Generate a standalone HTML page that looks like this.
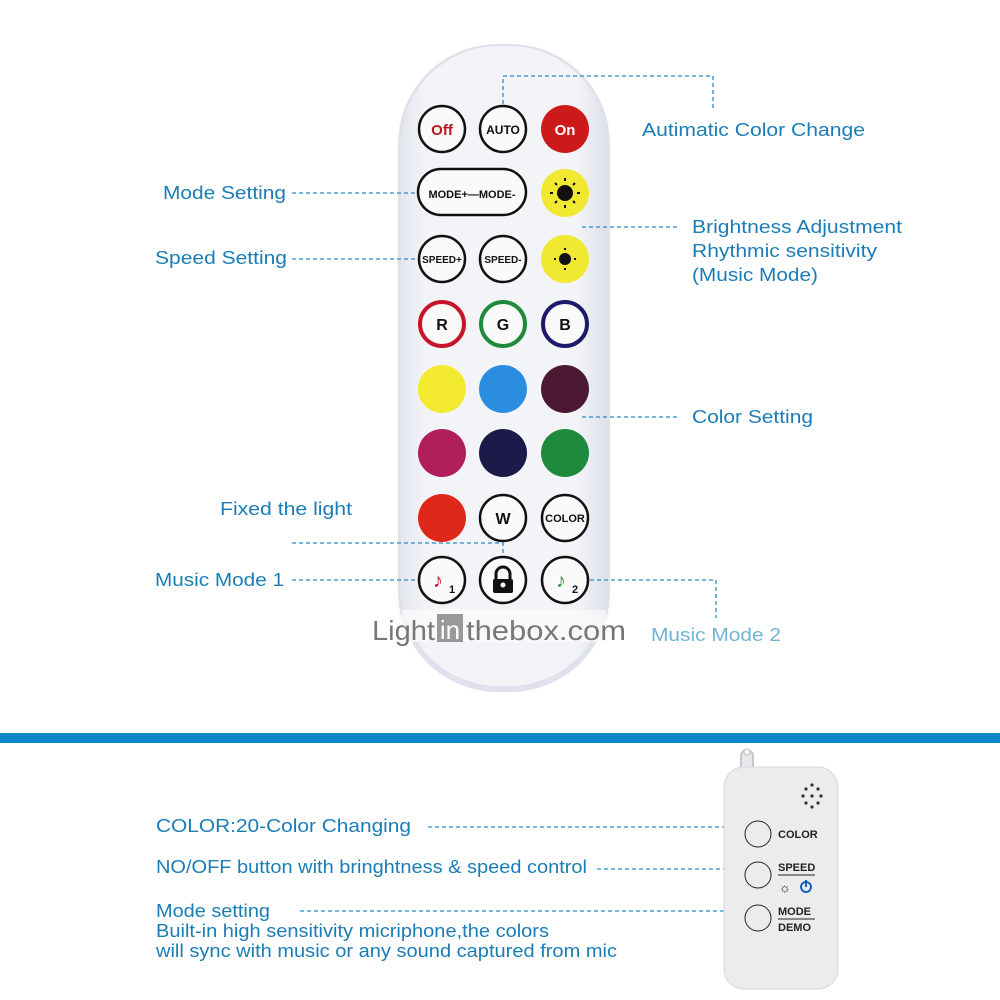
<!DOCTYPE html>
<html><head><meta charset="utf-8"><style>
html,body{margin:0;padding:0;background:#fff;}
svg{display:block;}
text{font-family:"Liberation Sans",sans-serif;}
</style></head><body>
<svg width="1000" height="1000" viewBox="0 0 1000 1000">
<defs>
<linearGradient id="rg" x1="0" x2="1" y1="0" y2="0">
<stop offset="0" stop-color="#e4e6ee"/><stop offset="0.12" stop-color="#f3f4f8"/><stop offset="0.85" stop-color="#f3f4f8"/><stop offset="1" stop-color="#dfe1ea"/>
</linearGradient>
</defs>
<rect x="398" y="44" width="212" height="648" rx="100" fill="#dfe2ec"/>
<rect x="401" y="46" width="206" height="640" rx="98" fill="url(#rg)"/>
<rect x="402" y="610" width="204" height="32" fill="#fafafa" opacity="0.8"/>

<g stroke="#111" stroke-width="2.5" fill="#fafafa">
<circle cx="442" cy="129" r="23"/>
<circle cx="503" cy="129" r="23"/>
<rect x="418" y="169" width="108" height="46" rx="23"/>
<circle cx="442" cy="259" r="23"/>
<circle cx="503" cy="259" r="23"/>
<circle cx="503" cy="518" r="23"/>
<circle cx="565" cy="518" r="23"/>
<circle cx="442" cy="580" r="23"/>
<circle cx="503" cy="580" r="23"/>
<circle cx="565" cy="580" r="23"/>
</g>
<circle cx="565" cy="129" r="24" fill="#cc1a1a"/>
<circle cx="565" cy="193" r="24" fill="#f1e832"/>
<circle cx="565" cy="259" r="24" fill="#f1e832"/>
<circle cx="565" cy="193" r="8" fill="#111"/>
<circle cx="565" cy="259" r="6" fill="#111"/>
<g stroke="#111" stroke-width="2">
<line x1="565" y1="178" x2="565" y2="181"/><line x1="565" y1="205" x2="565" y2="208"/>
<line x1="550" y1="193" x2="553" y2="193"/><line x1="577" y1="193" x2="580" y2="193"/>
<line x1="555" y1="183" x2="557" y2="185"/><line x1="573" y1="201" x2="575" y2="203"/>
<line x1="575" y1="183" x2="573" y2="185"/><line x1="557" y1="201" x2="555" y2="203"/>
<line x1="565" y1="248" x2="565" y2="250"/><line x1="565" y1="268" x2="565" y2="270"/>
<line x1="554" y1="259" x2="556" y2="259"/><line x1="574" y1="259" x2="576" y2="259"/>
</g>
<circle cx="442" cy="324" r="22" fill="#fafafa" stroke="#c8142a" stroke-width="4"/>
<circle cx="503" cy="324" r="22" fill="#fafafa" stroke="#1f8a3a" stroke-width="4"/>
<circle cx="565" cy="324" r="22" fill="#fafafa" stroke="#1e1a6a" stroke-width="4"/>
<circle cx="442" cy="389" r="24" fill="#f3e92e"/>
<circle cx="503" cy="389" r="24" fill="#2a8de0"/>
<circle cx="565" cy="389" r="24" fill="#4a1832"/>
<circle cx="442" cy="453" r="24" fill="#b01f5c"/>
<circle cx="503" cy="453" r="24" fill="#1c1a48"/>
<circle cx="565" cy="453" r="24" fill="#1f8a3c"/>
<circle cx="442" cy="518" r="24" fill="#e0281a"/>

<g font-weight="bold" text-anchor="middle">
<text x="442" y="135" font-size="15" fill="#c0141c">Off</text>
<text x="503" y="134" font-size="12" fill="#111">AUTO</text>
<text x="565" y="135" font-size="15" fill="#fff">On</text>
<text x="472" y="198" font-size="11" fill="#111">MODE+—MODE-</text>
<text x="442" y="263" font-size="10" fill="#111">SPEED+</text>
<text x="503" y="263" font-size="10" fill="#111">SPEED-</text>
<text x="442" y="330" font-size="16" fill="#111">R</text>
<text x="503" y="330" font-size="16" fill="#111">G</text>
<text x="565" y="330" font-size="16" fill="#111">B</text>
<text x="503" y="524" font-size="16" fill="#111">W</text>
<text x="565" y="522" font-size="11" fill="#111">COLOR</text>
<text x="438" y="587" font-size="20" fill="#c8142a">♪</text>
<text x="452" y="593" font-size="11" fill="#111">1</text>
<text x="561" y="587" font-size="20" fill="#2a9a30">♪</text>
<text x="575" y="593" font-size="11" fill="#111">2</text>
</g>
<path d="M496 580 v-6 a7 7 0 0 1 14 0 v6" fill="none" stroke="#111" stroke-width="3"/>
<rect x="493" y="579" width="20" height="14" rx="2" fill="#111"/>
<circle cx="503" cy="585" r="2.5" fill="#fff"/>

<text x="372" y="640" font-size="28" fill="#777" textLength="63" lengthAdjust="spacingAndGlyphs">Light</text>
<rect x="437" y="614" width="26" height="28" fill="#999"/>
<text x="450" y="639" font-size="26" fill="#fff" text-anchor="middle">in</text>
<text x="466" y="640" font-size="28" fill="#777" textLength="160" lengthAdjust="spacingAndGlyphs">thebox.com</text>

<g stroke="#2a8cc0" stroke-width="1.3" stroke-dasharray="4,3" fill="none">
<path d="M503 104 V76 H713 V110"/>
<path d="M292 193 H416"/>
<path d="M292 259 H416"/>
<path d="M582 227 H680"/>
<path d="M582 417 H680"/>
<path d="M292 543 H503 V556"/>
<path d="M292 580 H416"/>
<path d="M590 580 H716 V618"/>
<path d="M428 827 H745"/>
<path d="M597 869 H745"/>
<path d="M300 911 H745"/>
</g>

<g fill="#1a7db6" font-size="18.5" lengthAdjust="spacingAndGlyphs">
<text x="642" y="136" textLength="223" lengthAdjust="spacingAndGlyphs">Autimatic Color Change</text>
<text x="163" y="199" textLength="123" lengthAdjust="spacingAndGlyphs">Mode Setting</text>
<text x="155" y="264" textLength="132" lengthAdjust="spacingAndGlyphs">Speed Setting</text>
<text x="692" y="233" textLength="210" lengthAdjust="spacingAndGlyphs">Brightness Adjustment</text>
<text x="692" y="257" textLength="185" lengthAdjust="spacingAndGlyphs">Rhythmic sensitivity</text>
<text x="692" y="281" textLength="126" lengthAdjust="spacingAndGlyphs">(Music Mode)</text>
<text x="692" y="423" textLength="121" lengthAdjust="spacingAndGlyphs">Color Setting</text>
<text x="220" y="515" textLength="132" lengthAdjust="spacingAndGlyphs">Fixed the light</text>
<text x="155" y="586" textLength="129" lengthAdjust="spacingAndGlyphs">Music Mode 1</text>
<text x="651" y="641" fill="#6fb4d8" textLength="130" lengthAdjust="spacingAndGlyphs">Music Mode 2</text>
<text x="156" y="832" textLength="255" lengthAdjust="spacingAndGlyphs">COLOR:20-Color Changing</text>
<text x="156" y="873" textLength="431" lengthAdjust="spacingAndGlyphs">NO/OFF button with bringhtness &amp; speed control</text>
<text x="156" y="917" textLength="114" lengthAdjust="spacingAndGlyphs">Mode setting</text>
<text x="156" y="937" textLength="393" lengthAdjust="spacingAndGlyphs">Built-in high sensitivity micriphone,the colors</text>
<text x="156" y="957" textLength="461" lengthAdjust="spacingAndGlyphs">will sync with music or any sound captured from mic</text>
</g>

<rect x="0" y="733" width="1000" height="10" fill="#0a88c8"/>

<path d="M741 770 v-14 a6 6 0 0 1 12 0 v14" fill="#e8e8ec" stroke="#c8c8cc" stroke-width="2"/>
<circle cx="747" cy="752" r="3" fill="#fff" stroke="#bbb"/>
<rect x="724" y="767" width="114" height="222" rx="20" fill="#ececef" stroke="#d8d8dc"/>
<g fill="#333">
<circle cx="812" cy="796" r="1.6"/><circle cx="806" cy="789" r="1.6"/><circle cx="818" cy="789" r="1.6"/>
<circle cx="803" cy="796" r="1.6"/><circle cx="821" cy="796" r="1.6"/><circle cx="806" cy="803" r="1.6"/><circle cx="818" cy="803" r="1.6"/><circle cx="812" cy="785" r="1.6"/><circle cx="812" cy="807" r="1.6"/>
</g>
<g fill="#ececef" stroke="#222" stroke-width="1">
<circle cx="758" cy="834" r="13"/><circle cx="758" cy="875" r="13"/><circle cx="758" cy="918" r="13"/>
</g>
<g fill="#222" font-weight="bold" font-size="11">
<text x="778" y="838">COLOR</text>
<text x="778" y="871">SPEED</text>
<text x="778" y="915">MODE</text>
<text x="778" y="931">DEMO</text>
</g>
<line x1="778" y1="875" x2="815" y2="875" stroke="#222"/>
<line x1="778" y1="919" x2="815" y2="919" stroke="#222"/>
<text x="779" y="892" font-size="13" fill="#222">☼</text>
<circle cx="806" cy="887" r="5" fill="none" stroke="#1a60c0" stroke-width="2"/>
<line x1="806" y1="880" x2="806" y2="887" stroke="#1a60c0" stroke-width="2"/>
</svg>
</body></html>
